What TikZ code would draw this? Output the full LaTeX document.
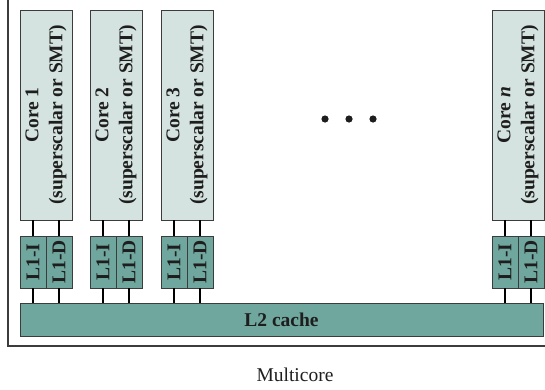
\documentclass[tikz,border=0pt]{standalone}
\usepackage{fontspec}
\setmainfont{Liberation Serif}
\usetikzlibrary{positioning}
\definecolor{corefill}{HTML}{D4E3DF}
\definecolor{cachefill}{HTML}{6FA69D}
\definecolor{edge}{HTML}{3C3C3C}
\definecolor{ink}{HTML}{1E1E1E}

\begin{document}
\begin{tikzpicture}[x=1pt,y=-1pt,
  core/.style={draw=edge,fill=corefill,minimum width=52pt,minimum height=210pt,inner sep=0pt},
  lone/.style={draw=edge,fill=cachefill,minimum width=26pt,minimum height=52pt,inner sep=0pt},
  ltwo/.style={draw=edge,fill=cachefill,minimum width=523pt,minimum height=33pt,inner sep=0pt,
               font=\fontsize{19.5}{24}\selectfont\bfseries,text=ink},
  vlab/.style={rotate=90,align=center,inner sep=0pt,font=\fontsize{19.5}{24}\selectfont\bfseries,text=ink},
  wire/.style={line width=1.6pt,black}]

\useasboundingbox (0,0) rectangle (545,389);

\draw[edge,line width=1.2pt] (8,-2) -- (8,346) -- (547,346);

\node[ltwo] (l2) at (281.5,319.5) {L2 cache};

\foreach \n/\x/\t in {1/46/1,2/116/2,3/187/3,n/518/{\textit{n}}} {
  \node[core] (c\n) at (\x,115) {};
  \node[vlab] at (c\n) {Core \t\\(superscalar or SMT)};
  \node[lone,label={[vlab]center:L1-I}] (ci\n) at (\x-13,262) {};
  \node[lone,label={[vlab]center:L1-D}] (cd\n) at (\x+13,262) {};
  \draw[wire] (c\n.south -| ci\n) -- (ci\n.north);
  \draw[wire] (c\n.south -| cd\n) -- (cd\n.north);
  \draw[wire] (ci\n.south) -- (ci\n.south |- l2.north);
  \draw[wire] (cd\n.south) -- (cd\n.south |- l2.north);
}

\foreach \x in {325,349,373}
  \fill[ink] (\x,119) circle (3.6pt);

\node[font=\fontsize{19.5}{24}\selectfont,text=ink] (cap) at (295,375) {Multicore};
\end{tikzpicture}
\end{document}
